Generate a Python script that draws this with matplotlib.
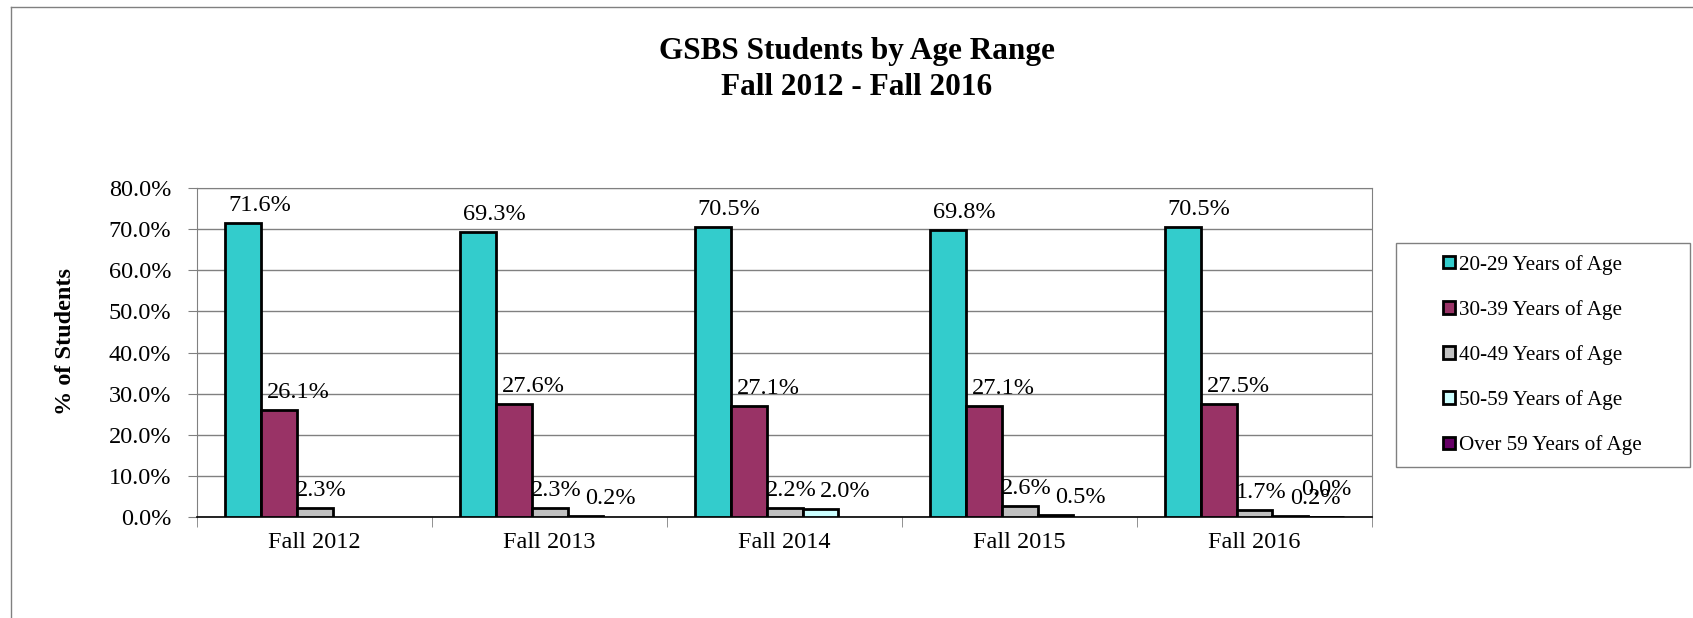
import matplotlib.pyplot as plt
import numpy as np
from matplotlib.lines import Line2D
from matplotlib.patches import Patch, Rectangle

plt.rcParams['font.family'] = ['Liberation Serif', 'DejaVu Serif']

terms = ["Fall 2012", "Fall 2013", "Fall 2014", "Fall 2015", "Fall 2016"]
series_names = ["20-29 Years of Age", "30-39 Years of Age", "40-49 Years of Age",
                "50-59 Years of Age", "Over 59 Years of Age"]
age_20_29 = [71.6, 69.3, 70.5, 69.8, 70.5]
age_30_39 = [26.1, 27.6, 27.1, 27.1, 27.5]
age_40_49 = [2.3, 2.3, 2.2, 2.6, 1.7]
age_50_59 = [None, 0.2, 2.0, 0.5, 0.2]
age_over_59 = [None, None, None, None, 0.0]
colors = ["#33CCCC", "#993366", "#C0C0C0", "#CCFFFF", "#660066"]

all_series = [age_20_29, age_30_39, age_40_49, age_50_59, age_over_59]
# label nudges (points) per series, roughly as the spreadsheet placed them
label_dx = [12, 14, 5, 18, 0]
label_dy = [5, 5, 5, 5, 12]

fig = plt.figure(figsize=(16.93, 6.18), dpi=100)
ax = fig.add_axes([0.1164, 0.1634, 0.694, 0.5324])

x = np.arange(len(terms))
bw = 0.153
for i, (vals, col) in enumerate(zip(all_series, colors)):
    for j, v in enumerate(vals):
        if v is None:
            continue
        xpos = x[j] + (i - 2) * bw
        ax.bar(xpos, v, width=bw, color=col, edgecolor='black', linewidth=2.0, zorder=3)
        ax.annotate(f"{v:.1f}%", xy=(xpos, v), xytext=(label_dx[i], label_dy[i]),
                    textcoords='offset points', ha='center', va='bottom',
                    fontsize=17.5, zorder=4)

ax.set_xlim(-0.5, 4.5)
ax.set_ylim(0, 80)
ax.set_yticks(np.arange(0, 81, 10))
ax.set_yticklabels([f"{t:.1f}%" for t in range(0, 81, 10)], fontsize=17.5)
ax.set_xticks(x)
ax.set_xticklabels(terms, fontsize=17.5)
ax.set_xticks(np.arange(-0.5, 5, 1), minor=True)
ax.tick_params(axis='x', which='major', length=0, pad=11)
ax.tick_params(axis='x', which='minor', length=7, color='#808080', direction='out')
ax.tick_params(axis='y', length=6.5, color='#808080', direction='out', pad=12)
ax.grid(axis='y', color='#808080', linewidth=1, zorder=0)
for s in ['top', 'right', 'left']:
    ax.spines[s].set_color('#808080')
ax.spines['bottom'].set_color('black')
ax.spines['bottom'].set_linewidth(1.2)

fig.text(0.0384, 0.448, "% of Students", rotation=90, ha='center', va='center',
         fontsize=17.5, fontweight='bold')

fig.text(0.506, 0.916, "GSBS Students by Age Range", ha='center', va='center',
         fontsize=22.5, fontweight='bold')
fig.text(0.506, 0.858, "Fall 2012 - Fall 2016", ha='center', va='center',
         fontsize=22.5, fontweight='bold')

# legend box
fig.add_artist(Rectangle((0.8246, 0.2443), 0.1737, 0.3625, transform=fig.transFigure,
                         facecolor='white', edgecolor='#808080', linewidth=1))
handles = [Patch(facecolor=c, edgecolor='black', linewidth=2) for c in colors]
leg = fig.legend(handles, series_names, loc='upper left', bbox_to_anchor=(0.8525, 0.588),
                 fontsize=15.2, frameon=False,
                 handlelength=0.55, handleheight=0.55, handletextpad=0.2,
                 labelspacing=1.2, borderpad=0, borderaxespad=0)

# outer chart border (left and top visible)
fig.add_artist(Line2D([0.0065, 0.0065], [0, 0.988], transform=fig.transFigure,
                      color='#808080', linewidth=1))
fig.add_artist(Line2D([0.0065, 1], [0.988, 0.988], transform=fig.transFigure,
                      color='#808080', linewidth=1))

fig.savefig("out.png", dpi=100)
